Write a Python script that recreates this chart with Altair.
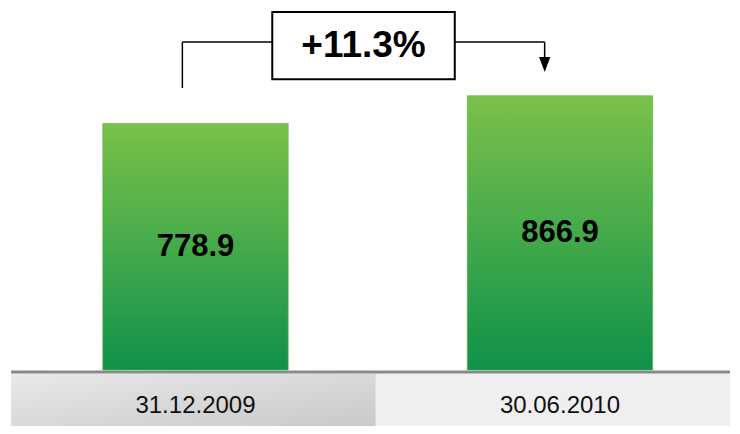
import altair as alt
import pandas as pd

# ---- data ----
categories = ["31.12.2009", "30.06.2010"]
values = [778.9, 866.9]
value_labels = ["778.9", "866.9"]
change_label = ["+11.3%"]

# ---- scales (value units) ----
XDOM = [-0.5144, 1.4665]
YDOM = [-176.9, 1143.8]
xs = alt.Scale(domain=XDOM, nice=False, zero=False)
ys = alt.Scale(domain=YDOM, nice=False, zero=False)

HALF = 0.2544
bars = pd.DataFrame({
    "cat": categories,
    "value": values,
    "label": value_labels,
    "i": list(range(len(categories))),
})
bars["x0"] = bars["i"] - HALF
bars["x1"] = bars["i"] + HALF
bars["mid"] = bars["value"] / 2

# category band cells
CELL = 0.506
cells = pd.DataFrame({"i": list(range(len(categories))), "cat": categories})
cells["x0"] = cells["i"] - CELL
cells["x1"] = [c + CELL for c in cells["i"][:-1]] + [XDOM[1]]
cells["y0"] = YDOM[0]
cells["y1"] = -11.0
cells["ty"] = -114.0

X = lambda f: alt.X(f, type="quantitative", scale=xs, axis=None)
Y = lambda f: alt.Y(f, type="quantitative", scale=ys, axis=None)

grad_left = alt.Gradient(
    gradient="linear", x1=0, y1=0, x2=1, y2=1,
    stops=[alt.GradientStop(color="#e9e9e9", offset=0),
           alt.GradientStop(color="#c9c9c9", offset=1)],
)

cell_left = alt.Chart(cells.iloc[[0]]).mark_rect(color=grad_left).encode(
    x=X("x0"), x2="x1", y=Y("y0"), y2="y1")
cell_right = alt.Chart(cells.iloc[[1]]).mark_rect(color="#efefef").encode(
    x=X("x0"), x2="x1", y=Y("y0"), y2="y1")

base_line = alt.Chart(pd.DataFrame({"x0": [cells["x0"].iloc[0]], "x1": [XDOM[1]], "y": [-6.3]})).mark_rule(
    color="#8a8a8a", strokeWidth=3).encode(x=X("x0"), x2="x1", y=Y("y"))

bar_grad = alt.Gradient(
    gradient="linear", x1=0, y1=0, x2=0, y2=1,
    stops=[alt.GradientStop(color="#7bc14a", offset=0),
           alt.GradientStop(color="#45aa4a", offset=0.5),
           alt.GradientStop(color="#0f914a", offset=1)],
)
bar_layer = alt.Chart(bars).mark_rect(color=bar_grad, stroke="#5cb347", strokeWidth=1, strokeOpacity=0.6).encode(
    x=X("x0"), x2="x1", y=Y("value"), y2=alt.datum(0))

val_text = alt.Chart(bars).mark_text(
    font="Liberation Sans", fontWeight="bold", fontSize=31, color="#000000", baseline="middle"
).encode(x=X("i"), y=Y("mid"), text="label:N")

cat_text = alt.Chart(cells).mark_text(
    font="Liberation Sans", fontSize=24, color="#111111", baseline="middle"
).encode(x=X("i"), y=Y("ty"), text="cat:N")

# ---- change annotation (bracket + box) ----
LX = 0 - 0.036
RX = 1 - 0.042
TOP = 1036.0
ann_lines = pd.DataFrame({
    "x0": [LX, LX, 0.7114, RX],
    "x1": [LX, 0.2107, RX, RX],
    "y0": [891.0, TOP, TOP, TOP],
    "y1": [TOP, TOP, TOP, 985.8],
})
bracket = alt.Chart(ann_lines).mark_rule(color="#000000", strokeWidth=1.5).encode(
    x=X("x0"), x2="x1", y=Y("y0"), y2="y1")

arrow = alt.Chart(pd.DataFrame({"x": [RX], "y": [965.3]})).mark_point(
    shape="M-0.75,-1L0.75,-1L0,1Z", size=225, filled=True, color="#000000", opacity=1, strokeWidth=0
).encode(x=X("x"), y=Y("y"))

box_df = pd.DataFrame({"x0": [0.2107], "x1": [0.7114], "y0": [919.0], "y1": [1131.0],
                       "xc": [0.461], "yc": [1025.0], "label": change_label})
box = alt.Chart(box_df).mark_rect(fill="#ffffff", stroke="#000000", strokeWidth=2).encode(
    x=X("x0"), x2="x1", y=Y("y0"), y2="y1")
box_text = alt.Chart(box_df).mark_text(
    font="Liberation Sans", fontWeight="bold", fontSize=37, color="#000000", baseline="middle"
).encode(x=X("xc"), y=Y("yc"), text="label:N")

chart = alt.layer(
    cell_left, cell_right, base_line, bar_layer, val_text, cat_text,
    bracket, arrow, box, box_text
).properties(
    width=724, height=418, padding=0,
    autosize=alt.AutoSizeParams(type="fit", contains="padding"),
    background="#ffffff",
).configure_view(strokeWidth=0)

chart.save("out.html", embed_options={"renderer": "svg", "actions": False})
